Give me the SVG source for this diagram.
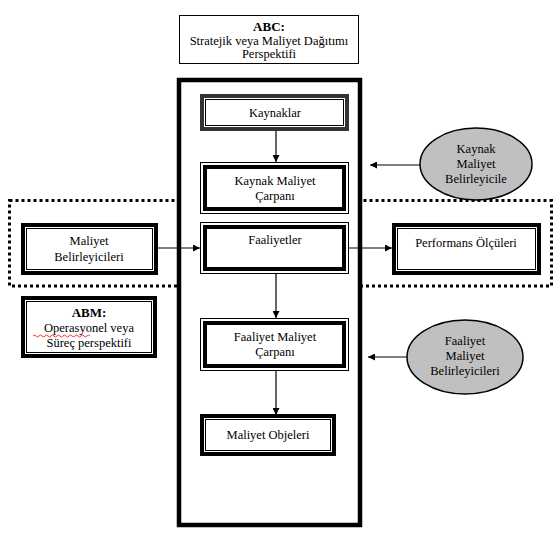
<svg xmlns="http://www.w3.org/2000/svg" width="560" height="540" viewBox="0 0 560 540">
<style>
text{font-size:12.5px;fill:#000;text-anchor:middle}
.b{font-weight:bold;font-size:13px}
.ao{fill:#fff;stroke:#000;stroke-width:4}
.ai{fill:none;stroke:#000;stroke-width:1}
.bo{fill:#fff;stroke:#000;stroke-width:1}
.bi{fill:none;stroke:#000;stroke-width:4}
.conn{stroke:#000;stroke-width:1.2;fill:none;marker-end:url(#ah)}
.ell{fill:#c0c0c0;stroke:#000;stroke-width:1.5}
</style>
<defs>
<marker id="ah" viewBox="0 0 10 10" refX="10" refY="5" markerWidth="7" markerHeight="7" markerUnits="userSpaceOnUse" orient="auto">
<path d="M0,0 L10,5 L0,10 z" fill="#000"/>
</marker>
</defs>
<rect width="560" height="540" fill="#fff"/>
<g font-family="'Liberation Serif', serif">
<g id="abc">
<rect x="179.5" y="15.5" width="179" height="48" fill="#fff" stroke="#000" stroke-width="1"/>
<text class="b" x="269" y="31">ABC:</text>
<text x="269" y="45">Stratejik veya  Maliyet Dağıtımı</text>
<text x="269" y="58">Perspektifi</text>
</g>
<g id="dotted-band">
<rect x="9.5" y="200.5" width="542" height="85.5" fill="none" stroke="#000" stroke-width="3" stroke-dasharray="3 3"/>
</g>
<g id="main-frame">
<rect x="179" y="80" width="181" height="445" fill="#fff" stroke="#000" stroke-width="4.5"/>
</g>
<g id="kaynaklar">
<rect x="202" y="96" width="145" height="33" fill="#fff" stroke="#333" stroke-width="4"/>
<rect x="205.5" y="99.5" width="138" height="26" class="ai"/>
<text x="275" y="117">Kaynaklar</text>
</g>
<g id="kaynak-maliyet-carpani">
<rect x="200.5" y="162.5" width="148" height="51" class="bo"/>
<rect x="205" y="167" width="139" height="42" class="bi"/>
<text x="275" y="185">Kaynak Maliyet</text>
<text x="275" y="200">Çarpanı</text>
</g>
<g id="faaliyetler">
<rect x="200.5" y="222.5" width="148" height="51" class="bo"/>
<rect x="205" y="227" width="139" height="42" class="bi"/>
<text x="275" y="244">Faaliyetler</text>
</g>
<g id="maliyet-belirleyicileri">
<rect x="23" y="225" width="133" height="48" class="ao"/>
<rect x="26.5" y="228.5" width="126" height="41" class="ai"/>
<text x="89" y="245">Maliyet</text>
<text x="89" y="261">Belirleyicileri</text>
</g>
<g id="performans">
<rect x="394" y="225" width="145" height="48" class="ao"/>
<rect x="397.5" y="228.5" width="138" height="41" class="ai"/>
<text x="466" y="247">Performans Ölçüleri</text>
</g>
<g id="abm">
<rect x="23" y="298" width="132" height="58" class="ao"/>
<rect x="26.5" y="301.5" width="125" height="51" class="ai"/>
<text class="b" x="89" y="317">ABM:</text>
<text x="89" y="332">Operasyonel  veya</text>
<path d="M33,336 q1.5,-2 3,0 t3,0 t3,0 t3,0 t3,0 t3,0 t3,0 t3,0 t3,0 t3,0 t3,0 t3,0 t3,0 t3,0 t3,0 t3,0 t3,0 t3,0 t3,0" fill="none" stroke="#e00" stroke-width="0.8"/>
<text x="89" y="347">Süreç perspektifi</text>
</g>
<g id="faaliyet-maliyet-carpani">
<rect x="200.5" y="318.5" width="148" height="52" class="bo"/>
<rect x="205" y="323" width="139" height="43" class="bi"/>
<text x="275" y="341">Faaliyet Maliyet</text>
<text x="275" y="356">Çarpanı</text>
</g>
<g id="maliyet-objeleri">
<rect x="202" y="416" width="132" height="38" class="ao"/>
<rect x="205.5" y="419.5" width="125" height="31" class="ai"/>
<text x="268" y="439">Maliyet Objeleri</text>
</g>
<g id="kaynak-maliyet-belirleyicile">
<ellipse cx="476" cy="164" rx="56" ry="36" class="ell"/>
<text x="476" y="153">Kaynak</text>
<text x="476" y="168">Maliyet</text>
<text x="476" y="183">Belirleyicile</text>
</g>
<g id="faaliyet-maliyet-belirleyicileri">
<ellipse cx="465" cy="357" rx="58" ry="37" class="ell"/>
<text x="465" y="345">Faaliyet</text>
<text x="465" y="360">Maliyet</text>
<text x="465" y="375">Belirleyicileri</text>
</g>
</g>
<g id="connectors">
<line x1="276" y1="131" x2="276" y2="162" class="conn"/>
<line x1="158" y1="248" x2="200" y2="248" class="conn"/>
<line x1="349" y1="248" x2="392" y2="248" class="conn"/>
<line x1="276" y1="274" x2="276" y2="318" class="conn"/>
<line x1="276" y1="371" x2="276" y2="415" class="conn"/>
<line x1="420" y1="165" x2="370" y2="165" class="conn"/>
<line x1="407" y1="357" x2="368" y2="357" class="conn"/>
</g>
</svg>
